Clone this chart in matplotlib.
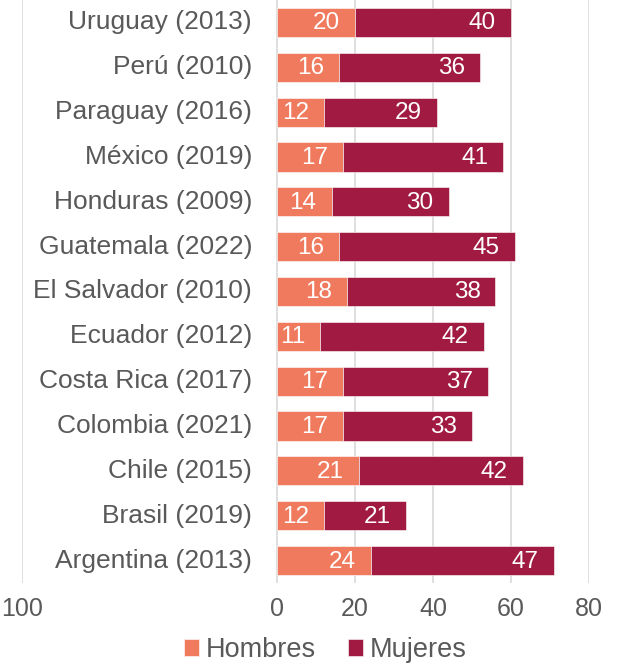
import matplotlib.pyplot as plt
import numpy as np

plt.rcParams['font.family'] = ['Liberation Sans', 'DejaVu Sans']

# ---- DATA ----
paises = ["Uruguay (2013)", "Perú (2010)", "Paraguay (2016)", "México (2019)",
          "Honduras (2009)", "Guatemala (2022)", "El Salvador (2010)",
          "Ecuador (2012)", "Costa Rica (2017)", "Colombia (2021)",
          "Chile (2015)", "Brasil (2019)", "Argentina (2013)"]
hombres = [20, 16, 12, 17, 14, 16, 18, 11, 17, 17, 21, 12, 24]
mujeres = [40, 36, 29, 41, 30, 45, 38, 42, 37, 33, 42, 21, 47]

tick_vals = [-65.4, 0, 20, 40, 60, 80]
tick_labels = ["100", "0", "20", "40", "60", "80"]

C_H = "#F07A5E"
C_M = "#A01A42"
GRIS = "#595959"

# ---- PLOT ----
fig = plt.figure(figsize=(6.26, 6.64), dpi=100)
ax = fig.add_axes([0.035, 0.122, 0.906, 0.878])

y = np.arange(len(paises))[::-1]
h = np.array(hombres)
m = np.array(mujeres)

ax.barh(y, h, height=0.65, color=C_H, edgecolor="white", linewidth=0.4,
        label="Hombres", zorder=3)
ax.barh(y, m, left=h, height=0.65, color=C_M, edgecolor="white", linewidth=0.4,
        label="Mujeres", zorder=3)

for yi, hv, mv, name in zip(y, h, m, paises):
    ax.annotate(str(hv), (hv, yi), xytext=(-15, -1), textcoords="offset pixels",
                ha="right", va="center", color="white", fontsize=17.5, zorder=4)
    ax.annotate(str(mv), (hv + mv, yi), xytext=(-15, -1), textcoords="offset pixels",
                ha="right", va="center", color="white", fontsize=17.5, zorder=4)
    ax.text(-6.4, yi, name, ha="right", va="center", color=GRIS, fontsize=19)

ax.set_xlim(-65.4, 80)
ax.set_ylim(-0.5, len(paises) - 0.5)
ax.set_xticks(tick_vals)
ax.set_xticklabels(tick_labels)
ax.set_yticks([])
ax.tick_params(axis="x", length=0, pad=10, labelsize=18, labelcolor=GRIS)
ax.grid(axis="x", color="#D9D9D9", linewidth=1.2, zorder=0)
for s in ax.spines.values():
    s.set_visible(False)

fig.legend(*ax.get_legend_handles_labels(), loc="center",
           bbox_to_anchor=(0.52, 1 - 650 / 664), ncol=2, frameon=False,
           fontsize=19.5, labelcolor=GRIS, handlelength=0.55, handleheight=0.55,
           handletextpad=0.25, columnspacing=1.2, borderaxespad=0, borderpad=0)

plt.savefig("out.png", dpi=100)
